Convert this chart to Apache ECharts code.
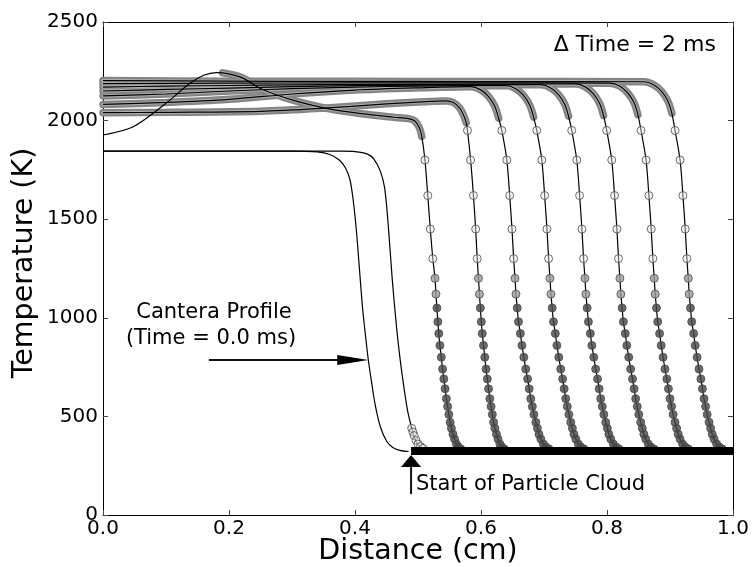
<!DOCTYPE html>
<html><head><meta charset="utf-8">
<script src="https://cdn.jsdelivr.net/npm/echarts/dist/echarts.min.js"></script>
<style>html,body{margin:0;padding:0;background:#fff}#c{width:752px;height:567px}</style>
</head><body><div id="c"></div>
<script>
const xTickLabels = ['0.0','0.2','0.4','0.6','0.8','1.0'];
const yTickLabels = ['0','500','1000','1500','2000','2500'];

// Cantera profiles (solid lines)
const canteraT0 = [[0,1845],[0.30,1845],[0.34,1841],[0.36,1828],[0.375,1800],[0.385,1760],[0.392,1700],[0.397,1600],[0.402,1450],[0.407,1250],[0.412,1050],[0.417,900],[0.421,790],[0.426,680],[0.432,560],[0.44,450],[0.45,375],[0.46,342],[0.471,328],[0.485,322]];
const canteraT1 = [[0,1845],[0.38,1845],[0.40,1843],[0.42,1830],[0.43,1805],[0.44,1745],[0.447,1660],[0.453,1460],[0.459,1200],[0.466,950],[0.472,780],[0.478,640],[0.484,520],[0.49,440],[0.495,385],[0.50,355],[0.51,332],[0.52,323]];
const canteraT1Markers = [[0.490,440],[0.492,420],[0.494,402],[0.497,378],[0.500,360],[0.504,347],[0.508,338]];

// Curve 1 (line lead without markers, then marker band, drop, tail)
const c1Lead = [[0,1927],[0.048,1969],[0.10,2088],[0.138,2189],[0.16,2230],[0.18,2243]];
const c1Band = [[0.19,2242],[0.205,2233],[0.223,2214],[0.249,2164],[0.30,2105],[0.355,2062],[0.41,2035],[0.461,2017],[0.485,2010],[0.495,1998],[0.502,1965],[0.506,1920]];
const c1Drop = [[0.511,1800],[0.5155,1620],[0.5195,1450],[0.5235,1300],[0.527,1200],[0.5285,1120],[0.530,1050],[0.5315,980],[0.533,920],[0.5348,860],[0.537,800],[0.539,740],[0.541,690],[0.543,640],[0.545,590],[0.547,550],[0.549,510],[0.551,470],[0.553,440],[0.5555,410],[0.558,385],[0.561,360],[0.564,345],[0.568,335]];
const c1Tail = [[0.578,326],[1.0,322]];

const c2Band = [[0,2040],[0.1,2042],[0.25,2047],[0.35,2063],[0.45,2085],[0.52,2097],[0.545,2100],[0.556,2092],[0.566,2065],[0.572,2030],[0.5765,1990]];
const c2Drop = [[0.5785,1950],[0.5835,1800],[0.588,1620],[0.5915,1450],[0.594,1300],[0.596,1200],[0.5975,1120],[0.599,1050],[0.6005,980],[0.602,920],[0.604,860],[0.606,800],[0.608,740],[0.610,690],[0.612,640],[0.614,590],[0.616,550],[0.618,510],[0.620,470],[0.622,440],[0.6245,410],[0.627,385],[0.630,360],[0.633,345],[0.637,335]];
const c2Tail = [[0.647,326],[1.0,322]];

const c3Band = [[0,2082],[0.1,2092],[0.2,2108],[0.3,2135],[0.4,2155],[0.5,2166],[0.584,2172],[0.599,2157],[0.612,2122],[0.622,2072],[0.628,2012]];
const c3Drop = [[0.633,1950],[0.641,1800],[0.6455,1620],[0.6492,1450],[0.6518,1300],[0.654,1200],[0.6555,1120],[0.6575,1050],[0.6595,980],[0.6625,920],[0.665,860],[0.668,800],[0.671,740],[0.674,690],[0.6765,640],[0.679,590],[0.6815,550],[0.684,510],[0.687,470],[0.6895,440],[0.692,410],[0.695,385],[0.699,360],[0.703,345],[0.708,335]];
const c3Tail = [[0.719,325],[1.0,322]];

const c4Band = [[0,2125],[0.1,2135],[0.2,2150],[0.3,2162],[0.4,2170],[0.5,2175],[0.6395,2178],[0.6545,2163],[0.6675,2128],[0.6775,2078],[0.6835,2018]];
const c4Drop = [[0.6885,1950],[0.6965,1800],[0.701,1620],[0.7047,1450],[0.7073,1300],[0.7095,1200],[0.711,1120],[0.713,1050],[0.715,980],[0.718,920],[0.7205,860],[0.7235,800],[0.7265,740],[0.7295,690],[0.732,640],[0.7345,590],[0.737,550],[0.7395,510],[0.7425,470],[0.745,440],[0.7475,410],[0.7505,385],[0.7545,360],[0.7585,345],[0.7635,335]];
const c4Tail = [[0.7745,325],[1.0,322]];

const c5Band = [[0,2150],[0.1,2158],[0.2,2165],[0.3,2172],[0.4,2177],[0.5,2180],[0.695,2182],[0.71,2167],[0.723,2132],[0.733,2082],[0.739,2022]];
const c5Drop = [[0.744,1950],[0.752,1800],[0.7565,1620],[0.7602,1450],[0.7628,1300],[0.765,1200],[0.7665,1120],[0.7685,1050],[0.7705,980],[0.7735,920],[0.776,860],[0.779,800],[0.782,740],[0.785,690],[0.7875,640],[0.79,590],[0.7925,550],[0.795,510],[0.798,470],[0.8005,440],[0.803,410],[0.806,385],[0.81,360],[0.814,345],[0.819,335]];
const c5Tail = [[0.83,325],[1.0,322]];

const c6Band = [[0,2170],[0.1,2175],[0.2,2178],[0.3,2181],[0.4,2183],[0.6,2185],[0.7505,2186],[0.7655,2171],[0.7785,2136],[0.7885,2086],[0.7945,2026]];
const c6Drop = [[0.7995,1950],[0.8075,1800],[0.812,1620],[0.8157,1450],[0.8183,1300],[0.8205,1200],[0.822,1120],[0.824,1050],[0.826,980],[0.829,920],[0.8315,860],[0.8345,800],[0.8375,740],[0.8405,690],[0.843,640],[0.8455,590],[0.848,550],[0.8505,510],[0.8535,470],[0.856,440],[0.8585,410],[0.8615,385],[0.8655,360],[0.8695,345],[0.8745,335]];
const c6Tail = [[0.8855,325],[1.0,322]];

const c7Band = [[0,2188],[0.2,2190],[0.4,2191],[0.6,2191],[0.805,2190],[0.82,2175],[0.833,2140],[0.843,2090],[0.849,2030]];
const c7Drop = [[0.854,1950],[0.862,1800],[0.8665,1620],[0.8702,1450],[0.8728,1300],[0.875,1200],[0.8765,1120],[0.8785,1050],[0.8805,980],[0.8835,920],[0.886,860],[0.889,800],[0.892,740],[0.895,690],[0.8975,640],[0.9,590],[0.9025,550],[0.905,510],[0.908,470],[0.9105,440],[0.913,410],[0.916,385],[0.92,360],[0.924,345],[0.929,335]];
const c7Tail = [[0.94,325],[1.0,322]];

const c8Band = [[0,2203],[0.2,2200],[0.4,2199],[0.6,2198],[0.859,2197],[0.874,2182],[0.887,2147],[0.897,2097],[0.903,2037]];
const c8Drop = [[0.908,1950],[0.916,1800],[0.9205,1620],[0.9242,1450],[0.9268,1300],[0.929,1200],[0.9305,1120],[0.9325,1050],[0.9345,980],[0.9375,920],[0.94,860],[0.943,800],[0.946,740],[0.949,690],[0.9515,640],[0.954,590],[0.9565,550],[0.959,510],[0.962,470],[0.9645,440],[0.967,410],[0.97,385],[0.974,360],[0.978,345],[0.983,335]];
const c8Tail = [[0.994,325],[1.0,323]];

const cloudBaseline = [[0.489,324],[1.0,324]];

const curves = [
  {lead:c1Lead, band:c1Band, drop:c1Drop, tail:c1Tail},
  {lead:[], band:c2Band, drop:c2Drop, tail:c2Tail},
  {lead:[], band:c3Band, drop:c3Drop, tail:c3Tail},
  {lead:[], band:c4Band, drop:c4Drop, tail:c4Tail},
  {lead:[], band:c5Band, drop:c5Drop, tail:c5Tail},
  {lead:[], band:c6Band, drop:c6Drop, tail:c6Tail},
  {lead:[], band:c7Band, drop:c7Drop, tail:c7Tail},
  {lead:[], band:c8Band, drop:c8Drop, tail:c8Tail}
];

const FONT = 'DejaVu Sans';
const chart = echarts.init(document.getElementById('c'), null, {renderer:'canvas'});
const series = [];
const lineBase = {type:'line', symbol:'none', showSymbol:false, silent:true, animation:false, smooth:0.3};

curves.forEach(c => {
  series.push(Object.assign({}, lineBase, {data:c.band, z:1, lineStyle:{width:7.5, color:'#858585', cap:'round'}}));
});
curves.forEach(c => {
  series.push(Object.assign({}, lineBase, {data:c.band, z:2, lineStyle:{width:3, color:'#b0b0b0', cap:'round'}}));
});
[canteraT0, canteraT1].forEach(d => {
  series.push(Object.assign({}, lineBase, {data:d, z:3, lineStyle:{width:1.2, color:'#000'}}));
});
curves.forEach(c => {
  series.push(Object.assign({}, lineBase, {data:[].concat(c.lead, c.band, c.drop, c.tail), z:3, lineStyle:{width:1.2, color:'#000'}}));
});
series.push({type:'scatter', data:canteraT1Markers, z:4, symbol:'circle', symbolSize:8, silent:true, animation:false,
  itemStyle:{color:'rgba(235,235,235,0.5)', borderColor:'#4a4a4a', borderWidth:1}});
const markerData = [].concat(...curves.map(c => c.drop));
const scatterIndex = series.length;
series.push({type:'scatter', data:markerData, z:4, symbol:'circle', symbolSize:8, silent:true, animation:false,
  itemStyle:{borderColor:'#4a4a4a', borderWidth:1}});
series.push(Object.assign({}, lineBase, {data:cloudBaseline, smooth:false, z:5, lineStyle:{width:8, color:'#000'}}));

const axisCommon = {
  min:0, axisLine:{show:true, onZero:false, lineStyle:{color:'#000', width:1}},
  axisTick:{show:true, inside:true, length:5, lineStyle:{color:'#444'}},
  splitLine:{show:false}
};

chart.setOption({
  animation:false,
  backgroundColor:'#fff',
  grid:{left:103, right:19, top:22, bottom:52, containLabel:false},
  visualMap:{type:'piecewise', show:false, dimension:1, seriesIndex:scatterIndex,
    pieces:[{gt:1250, color:'rgba(235,235,235,0.55)'},{gt:1050, lte:1250, color:'#9c9c9c'},{lte:1050, color:'#464646'}]},
  xAxis:[
    Object.assign({}, axisCommon, {type:'value', max:1, interval:0.2, position:'bottom',
      axisLabel:{show:true, margin:4, color:'#000', fontFamily:FONT, fontSize:20, formatter:v => xTickLabels[Math.round(v/0.2)]}}),
    Object.assign({}, axisCommon, {type:'value', max:1, interval:0.2, position:'top', axisLabel:{show:false}})
  ],
  yAxis:[
    Object.assign({}, axisCommon, {type:'value', max:2500, interval:500, position:'left',
      axisLabel:{show:true, margin:5, color:'#000', fontFamily:FONT, fontSize:20, formatter:v => yTickLabels[Math.round(v/500)]}}),
    Object.assign({}, axisCommon, {type:'value', max:2500, interval:500, position:'right', axisLabel:{show:false}})
  ],
  series: series
});

const px = (x, y) => chart.convertToPixel({xAxisIndex:0, yAxisIndex:0}, [x, y]);
const a1s = px(0.168, 786), a1e = px(0.421, 786);
const a2s = px(0.489, 106), a2e = px(0.489, 304);
const txt = (text, x, y, align, size, rot) => ({type:'text', x:x, y:y, rotation:rot||0, z:100,
  style:{text:text, fill:'#000', font:size + 'px "' + FONT + '"', textAlign:align, textVerticalAlign:'middle'}});

chart.setOption({graphic:[
  {type:'line', z:100, shape:{x1:a1s[0], y1:a1s[1], x2:a1e[0]-28, y2:a1e[1]}, style:{stroke:'#111', lineWidth:2}},
  {type:'polygon', z:100, shape:{points:[[a1e[0],a1e[1]],[a1e[0]-31,a1e[1]-5],[a1e[0]-31,a1e[1]+5]]}, style:{fill:'#000'}},
  {type:'line', z:100, shape:{x1:a2s[0], y1:a2s[1], x2:a2e[0], y2:a2e[1]+10}, style:{stroke:'#111', lineWidth:2}},
  {type:'polygon', z:100, shape:{points:[[a2e[0],a2e[1]],[a2e[0]-10,a2e[1]+12],[a2e[0]+10,a2e[1]+12]]}, style:{fill:'#000'}},
  txt('Cantera Profile', 214, 313, 'center', 21),
  txt('(Time = 0.0 ms)', 211, 339, 'center', 21),
  txt('Start of Particle Cloud', 416, 485, 'left', 21),
  txt('\u0394 Time = 2 ms', 716, 45, 'right', 22),
  txt('Distance (cm)', 418, 552, 'center', 28.5),
  txt('Temperature (K)', 25, 263, 'center', 28.5, Math.PI/2)
]});
</script>
</body></html>
